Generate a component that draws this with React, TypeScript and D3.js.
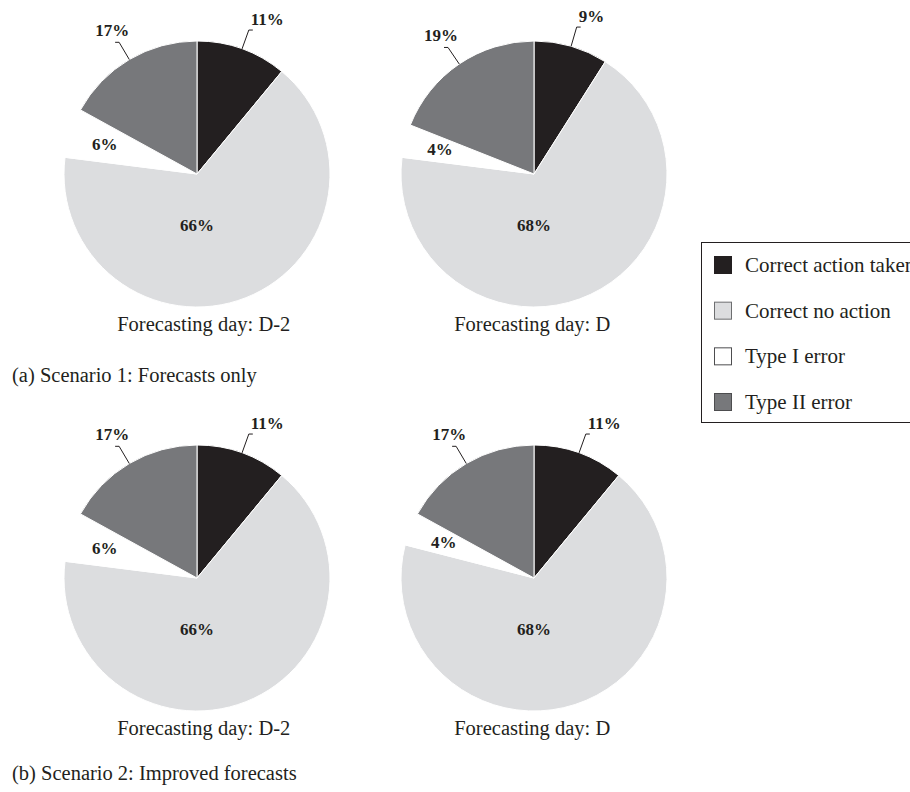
import React from "react";
import * as d3 from "d3";

// ---- data ----
const categories = ["Correct action taken", "Correct no action", "Type I error", "Type II error"];
const s1DayD2 = [11, 66, 6, 17];
const s1DayD = [9, 68, 4, 19];
const s2DayD2 = [11, 66, 6, 17];
const s2DayD = [11, 68, 4, 17];
const captions = ["Forecasting day: D-2", "Forecasting day: D"];
const scenarioTitles = ["(a) Scenario 1: Forecasts only", "(b) Scenario 2: Improved forecasts"];
const sliceColors = ["#231f20", "#dcdddf", "#ffffff", "#77787b"];
const swatchStrokes = ["#231f20", "#6d6e70", "#4d4d4f", "#4d4d4f"];

const W = 910;
const H = 792;
const R = 133;
const colX = [197, 534];
const rowY = [174, 578];
const titleY = [382, 780];
const FONT = "'Liberation Serif', 'Times New Roman', serif";
const INK = "#231f20";
const LABEL_SIZE = 17;

const pieGen = d3.pie<number>().sort(null).value((d) => d).startAngle(0).endAngle(2 * Math.PI);
const arcGen = d3.arc<d3.PieArcDatum<number>>().innerRadius(0).outerRadius(R);

function Pie({ cx, cy, values, caption }: { cx: number; cy: number; values: number[]; caption: string }) {
  const arcs = pieGen(values);
  const polar = (a: number, r: number) => [Math.sin(a) * r, -Math.cos(a) * r];
  return (
    <g transform={`translate(${cx},${cy})`}>
      {arcs.map((a, i) => (
        <path key={i} d={arcGen(a) || ""} fill={sliceColors[i]} stroke="#fff" strokeWidth={1} />
      ))}
      {arcs.map((a, i) => {
        const mid = (a.startAngle + a.endAngle) / 2;
        const label = `${a.data}%`;
        if (i === 0 || i === 3) {
          const [x0, y0] = polar(mid, R);
          const [x1, y1] = polar(mid, R + 20);
          const dir = x1 >= 0 ? 1 : -1;
          const x2 = x1 + dir * 4;
          return (
            <g key={"l" + i}>
              <polyline points={`${x0},${y0} ${x1},${y1} ${x2},${y1}`} fill="none" stroke={INK} strokeWidth={1} />
              {dir > 0 ? (
                <text x={x2 - 2} y={y1 - 5} textAnchor="start" fontSize={LABEL_SIZE} fontWeight="bold" fontFamily={FONT} fill={INK}>
                  {label}
                </text>
              ) : (
                <text x={x2 - 3} y={y1 - 6} textAnchor="middle" fontSize={LABEL_SIZE} fontWeight="bold" fontFamily={FONT} fill={INK}>
                  {label}
                </text>
              )}
            </g>
          );
        }
        if (i === 2) {
          const [x, y] = polar(mid, R * 0.73);
          return (
            <text key={"l" + i} x={x} y={y + 5.5} textAnchor="middle" fontSize={LABEL_SIZE} fontWeight="bold" fontFamily={FONT} fill={INK}>
              {label}
            </text>
          );
        }
        return (
          <text key={"l" + i} x={0} y={R * 0.43} textAnchor="middle" fontSize={LABEL_SIZE} fontWeight="bold" fontFamily={FONT} fill={INK}>
            {label}
          </text>
        );
      })}
      <text x={-R * 0.6} y={R + 24} textAnchor="start" fontSize={20.5} fontFamily={FONT} fill={INK}>
        {caption}
      </text>
    </g>
  );
}

export default function App() {
  const panels = [
    { cx: colX[0], cy: rowY[0], values: s1DayD2, caption: captions[0] },
    { cx: colX[1], cy: rowY[0], values: s1DayD, caption: captions[1] },
    { cx: colX[0], cy: rowY[1], values: s2DayD2, caption: captions[0] },
    { cx: colX[1], cy: rowY[1], values: s2DayD, caption: captions[1] },
  ];
  const legendX = 701.5;
  const legendTop = 242.5;
  const legendRow = d3.scalePoint<string>().domain(categories).range([265, 402]);
  return (
    <svg
      width={W}
      height={H}
      style={{ position: "absolute", left: 0, top: 0, background: "#fff" }}
      xmlns="http://www.w3.org/2000/svg"
    >
      <rect x={0} y={0} width={W} height={H} fill="#fff" />
      {panels.map((p, i) => (
        <Pie key={i} {...p} />
      ))}
      {scenarioTitles.map((t, i) => (
        <text key={t} x={12} y={titleY[i]} fontSize={20.5} fontFamily={FONT} fill={INK}>
          {t}
        </text>
      ))}
      <g>
        <rect x={legendX} y={legendTop} width={260} height={180} fill="#fff" stroke={INK} strokeWidth={1} />
        {categories.map((c, i) => {
          const y = legendRow(c) as number;
          return (
            <g key={c}>
              <rect x={714.5} y={y - 8.5} width={17} height={17} fill={sliceColors[i]} stroke={swatchStrokes[i]} strokeWidth={1} />
              <text x={745} y={y + 7} fontSize={21} fontFamily={FONT} fill={INK}>
                {c}
              </text>
            </g>
          );
        })}
      </g>
    </svg>
  );
}
